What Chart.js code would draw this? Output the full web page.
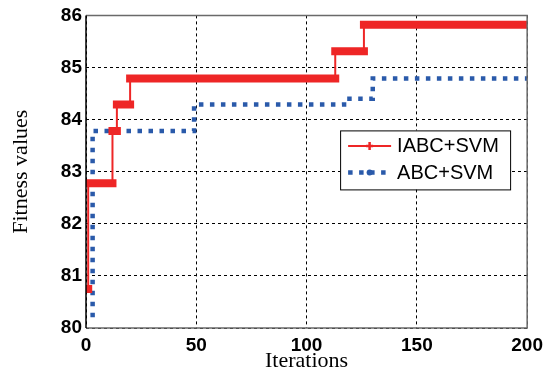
<!DOCTYPE html>
<html>
<head>
<meta charset="utf-8">
<script src="https://cdn.jsdelivr.net/npm/chart.js@4"></script>
<style>
  html,body{margin:0;padding:0;background:#fff;}
  #wrap{width:549px;height:383px;}
</style>
</head>
<body>
<div id="wrap"><canvas id="c" width="549" height="383"></canvas></div>
<script>
// ---- data ----
const seriesNames = ['IABC+SVM', 'ABC+SVM'];
// iteration at which each level starts, and its fitness value (step function)
const iabcIter = [0, 1, 12, 14, 20, 113, 126, 200];
const iabcFit  = [80.75, 82.78, 83.78, 84.29, 84.79, 85.31, 85.82, 85.82];
const abcIter  = [2, 3, 49, 117, 130, 200];
const abcFit   = [80.25, 83.78, 84.29, 84.40, 84.79, 84.79];
const xTicks = [0, 50, 100, 150, 200];
const yTicks = [80, 81, 82, 83, 84, 85, 86];
const xTitle = 'Iterations';
const yTitle = 'Fitness values';

const RED = 'rgb(238,38,38)';
const BLUE = 'rgb(42,90,170)';

const toPts = (xs, ys) => xs.map((x, i) => ({x: x, y: ys[i]}));
// horizontal levels of the red curve (drawn thick, as the dense '+' markers do)
const levelPts = [];
for (let i = 0; i < iabcIter.length - 1; i++) {
  levelPts.push({x: iabcIter[i], y: iabcFit[i]});
  levelPts.push({x: iabcIter[i + 1], y: iabcFit[i]});
  levelPts.push({x: iabcIter[i + 1], y: null});
}

const framePlugin = {
  id: 'frame',
  afterDraw(chart) {
    const {ctx, chartArea: a} = chart;
    ctx.save();
    ctx.setLineDash([]);
    ctx.lineWidth = 1.5;
    ctx.strokeStyle = '#6a6a6a';
    ctx.beginPath();
    ctx.moveTo(a.left, a.top); ctx.lineTo(a.right, a.top); ctx.lineTo(a.right, a.bottom); ctx.lineTo(a.left, a.bottom);
    ctx.stroke();
    ctx.strokeStyle = '#000';
    ctx.beginPath();
    ctx.moveTo(a.left, a.top); ctx.lineTo(a.left, a.bottom);
    ctx.stroke();

    // legend box
    const x0 = a.left + (a.right - a.left) * 0.576, y0 = a.top + 115;
    const w = 170, h = 59;
    ctx.fillStyle = '#fff';
    ctx.fillRect(x0, y0, w, h);
    ctx.lineWidth = 1;
    ctx.strokeStyle = '#000';
    ctx.strokeRect(x0 + 0.5, y0 + 0.5, w, h);
    const rows = [y0 + 15.5, y0 + 42];
    const sx0 = x0 + 8, sx1 = x0 + 51, sxm = (sx0 + sx1) / 2;
    // row 1: red line with '+' marker
    ctx.strokeStyle = RED; ctx.lineWidth = 2;
    ctx.beginPath(); ctx.moveTo(sx0, rows[0]); ctx.lineTo(sx1, rows[0]); ctx.stroke();
    ctx.lineWidth = 2.5;
    ctx.beginPath();
    ctx.moveTo(sxm - 3.5, rows[0]); ctx.lineTo(sxm + 3.5, rows[0]);
    ctx.moveTo(sxm, rows[0] - 4); ctx.lineTo(sxm, rows[0] + 4);
    ctx.stroke();
    // row 2: blue dotted with dot marker
    ctx.strokeStyle = BLUE; ctx.lineWidth = 4.5;
    ctx.setLineDash([4.5, 6.5]);
    ctx.beginPath(); ctx.moveTo(sx0, rows[1]); ctx.lineTo(sx1, rows[1]); ctx.stroke();
    ctx.setLineDash([]);
    ctx.fillStyle = BLUE;
    ctx.beginPath(); ctx.arc(sxm, rows[1], 3, 0, Math.PI * 2); ctx.fill();
    // labels
    ctx.fillStyle = '#000';
    ctx.font = '20px "Liberation Sans", Arial, sans-serif';
    ctx.textBaseline = 'middle';
    ctx.textAlign = 'left';
    const ds = chart.data.datasets.filter(d => d.label);
    ds.forEach((d, i) => ctx.fillText(d.label, x0 + 57, rows[i] + 1));
    ctx.restore();
  }
};

new Chart(document.getElementById('c'), {
  type: 'line',
  data: {
    datasets: [
      {label: seriesNames[0], data: toPts(iabcIter, iabcFit), stepped: true,
       borderColor: RED, borderWidth: 2, pointRadius: 0, fill: false},
      {label: '', data: levelPts, spanGaps: false,
       borderColor: RED, borderWidth: 8, borderCapStyle: 'square', pointRadius: 0, fill: false},
      {label: seriesNames[1], data: toPts(abcIter, abcFit), stepped: true,
       borderColor: BLUE, borderWidth: 4.5, borderDash: [4.5, 6.5], borderCapStyle: 'butt',
       pointRadius: 0, fill: false}
    ]
  },
  options: {
    responsive: false,
    animation: false,
    events: [],
    layout: {padding: {top: 15, right: 20, left: 0, bottom: 0}},
    plugins: {legend: {display: false}, tooltip: {enabled: false}},
    scales: {
      x: {
        type: 'linear', min: 0, max: 200,
        afterBuildTicks: s => { s.ticks = xTicks.map(v => ({value: v})); },
        afterFit: s => { s.height = 55; },
        grid: {color: '#000', lineWidth: 1, drawTicks: false},
        border: {display: false, dash: [3, 3]},
        ticks: {color: '#000', padding: 6, maxRotation: 0,
                font: {family: '"Liberation Sans", Arial, sans-serif', size: 19, weight: 'bold'}},
        title: {display: true, text: xTitle, color: '#000', padding: {top: 0, bottom: 9},
                font: {family: '"Liberation Serif", "Times New Roman", serif', size: 22}}
      },
      y: {
        type: 'linear', min: 80, max: 86,
        afterBuildTicks: s => { s.ticks = yTicks.map(v => ({value: v})); },
        afterFit: s => { s.width = 86; },
        grid: {color: '#000', lineWidth: 1, drawTicks: false},
        border: {display: false, dash: [3, 3]},
        ticks: {color: '#000', padding: 4,
                font: {family: '"Liberation Sans", Arial, sans-serif', size: 19, weight: 'bold'}},
        title: {display: true, text: yTitle, color: '#000', padding: {top: 8, bottom: 0},
                font: {family: '"Liberation Serif", "Times New Roman", serif', size: 22}}
      }
    }
  },
  plugins: [framePlugin]
});
</script>
</body>
</html>
